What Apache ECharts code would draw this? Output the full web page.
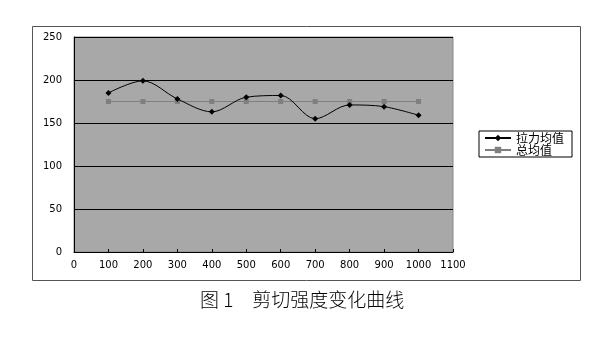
<!DOCTYPE html>
<html><head><meta charset="utf-8">
<script src="https://cdn.jsdelivr.net/npm/echarts@6/dist/echarts.min.js"></script>
<style>html,body{margin:0;padding:0;background:#fff;}#c{width:600px;height:347px;}</style>
</head><body><div id="c"></div>
<script>
var xValues = [100, 200, 300, 400, 500, 600, 700, 800, 900, 1000];
var tensileMean = [185, 199, 178, 163, 180, 182, 155, 171, 169, 159];
var overallMean = [175, 175, 175, 175, 175, 175, 175, 175, 175, 175];
var seriesNames = ['拉力均值', '总均值'];
var caption = '图 1\u3000剪切强度变化曲线';

var chart = echarts.init(document.getElementById('c'));
function pairs(xs, ys){ return xs.map(function(x,i){ return [x, ys[i]]; }); }
var tickFont = {fontFamily: 'DejaVu Sans', fontSize: 10, color: '#000'};
chart.setOption({
  animation: false,
  graphic: [
    {type: 'rect', left: 30, top: 24, shape: {width: 548, height: 254}, style: {fill: 'none', stroke: '#555', lineWidth: 1}, z: -1},
    {type: 'text', left: 200, top: 290, style: {text: caption, fontFamily: 'Noto Sans CJK SC', fontSize: 19, fontWeight: 300, fill: '#000'}}
  ],
  grid: {left: 74, top: 37, width: 379, height: 215, show: true, backgroundColor: '#a8a8a8', borderColor: '#888', borderWidth: 1},
  legend: {
    left: 479, top: 131, orient: 'vertical', itemGap: 0, padding: [1, 8, 1, 5],
    borderColor: '#000', borderWidth: 1, itemWidth: 26, itemHeight: 8,
    textStyle: {fontFamily: 'Noto Sans CJK SC', fontSize: 12, lineHeight: 12, color: '#000'},
    data: [{name: seriesNames[0]}, {name: seriesNames[1]}]
  },
  xAxis: {
    type: 'value', min: 0, max: 1100, interval: 100,
    axisLine: {lineStyle: {color: '#000'}},
    axisTick: {inside: true, length: 3, lineStyle: {color: '#000'}},
    axisLabel: Object.assign({margin: 8, formatter: function(v){ return String(v); }}, tickFont),
    splitLine: {show: false}
  },
  yAxis: {
    type: 'value', min: 0, max: 250, interval: 50,
    axisLine: {show: true, lineStyle: {color: '#000'}},
    axisTick: {show: false},
    axisLabel: Object.assign({margin: 12}, tickFont),
    splitLine: {lineStyle: {color: '#000', width: 1}}
  },
  series: [
    {name: seriesNames[0], type: 'line', smooth: 0.33, data: pairs(xValues, tensileMean),
     symbol: 'diamond', symbolSize: 6, lineStyle: {color: '#000', width: 1}, itemStyle: {color: '#000'}, z: 3},
    {name: seriesNames[1], type: 'line', data: pairs(xValues, overallMean),
     symbol: 'rect', symbolSize: 5, lineStyle: {color: '#7f7f7f', width: 1}, itemStyle: {color: '#7f7f7f'}, z: 2}
  ]
});
</script></body></html>
